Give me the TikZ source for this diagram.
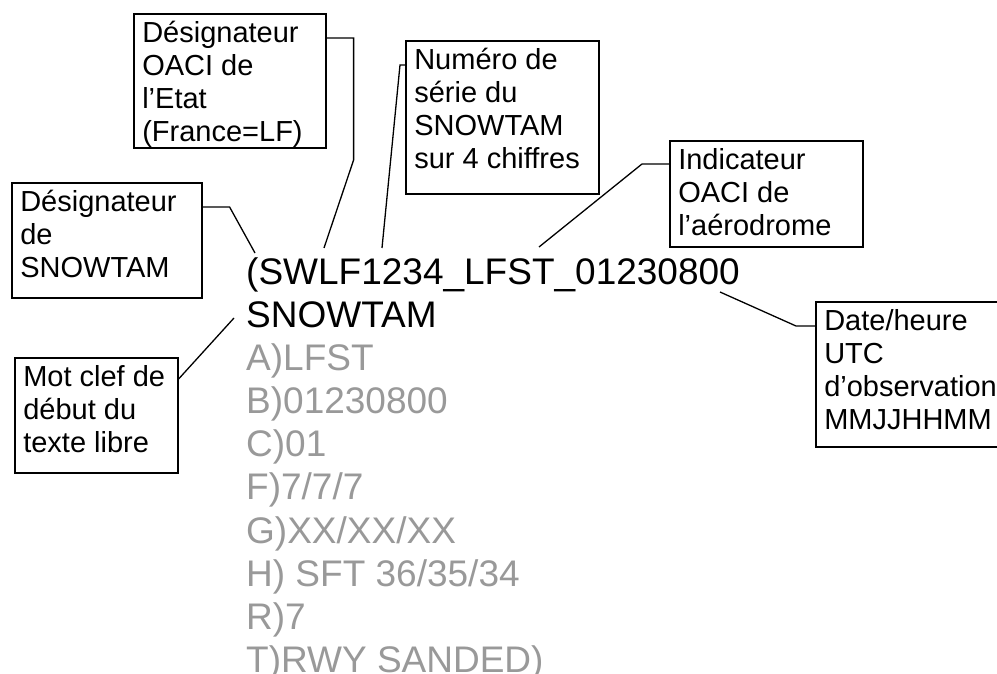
\documentclass[tikz,border=0pt]{standalone}
\usepackage{fontspec}
\setmainfont{Liberation Sans}
\definecolor{txtgray}{RGB}{153,153,153}
\newcommand\lblbox[3]{\parbox[c][#2][t]{#1}{\fontsize{29}{33}\selectfont\leftskip=8.5pt\parindent=0pt\rule{0pt}{28.5pt}#3}}
\tikzset{
  lbl/.style={draw=black, line width=1.6pt, inner sep=0pt, anchor=north west},
  conn/.style={draw=black, line width=1.3pt},
  bigtxt/.style={font=\fontsize{37}{43.2}\selectfont, inner sep=0pt, anchor=base west},
}
\begin{document}
\begin{tikzpicture}[x=1pt,y=-1pt]
\useasboundingbox (0,0) rectangle (997,674);
\clip (0,0) rectangle (997,674);
\fill[white] (0,0) rectangle (997,674);

% label boxes
\node[lbl] (b1) at (133,13) {\lblbox{192pt}{134pt}{Désignateur\\OACI de\\l’Etat\\(France=LF)}};
\node[lbl] (b2) at (11,182) {\lblbox{190pt}{115pt}{Désignateur\\de\\SNOWTAM}};
\node[lbl] (b3) at (405,40) {\lblbox{193pt}{153pt}{Numéro de\\série du\\SNOWTAM\\sur 4 chiffres}};
\node[lbl] (b4) at (669,140) {\lblbox{193pt}{106pt}{Indicateur\\OACI de\\l’aérodrome}};
\node[lbl] (b5) at (815,301) {\lblbox{195pt}{145pt}{Date/heure\\UTC\\d’observation\\MMJJHHMM}};
\node[lbl] (b6) at (14,357) {\lblbox{163pt}{115pt}{Mot clef de\\début du\\texte libre}};

% main message
\node[bigtxt] (l1) at (246,284) {(SWLF1234\_LFST\_01230800};
\node[bigtxt] (l2) at (246,327) {SNOWTAM};
\foreach \t [count=\i] in {A)LFST, B)01230800, C)01, F)7/7/7, G)XX/XX/XX, H) SFT 36/35/34, R)7, T)RWY SANDED)}
  \node[bigtxt, text=txtgray] (g\i) at (246,327+\i*43.2) {\t};

% connector ends
\coordinate (p1) at (324,248);
\coordinate (p2) at (255,253);
\coordinate (p3) at (382,248);
\coordinate (p4) at (539,247);
\coordinate (p5) at (720,292);
\coordinate (p6) at (234,318);

% connectors
\draw[conn] ([yshift=-25pt]b1.north east) -- ++(27,0) -- ++(0,122) -- (p1);
\draw[conn] ([yshift=-25pt]b2.north east) -- ++(27,0) -- (p2);
\draw[conn] ([yshift=-25pt]b3.north west) -- ++(-5,0) -- (p3);
\draw[conn] ([yshift=-24pt]b4.north west) -- ++(-27,0) -- (p4);
\draw[conn] ([yshift=-25pt]b5.north west) -- ++(-19,0) -- (p5);
\draw[conn] ([yshift=-22pt]b6.north east) -- (p6);
\end{tikzpicture}
\end{document}
